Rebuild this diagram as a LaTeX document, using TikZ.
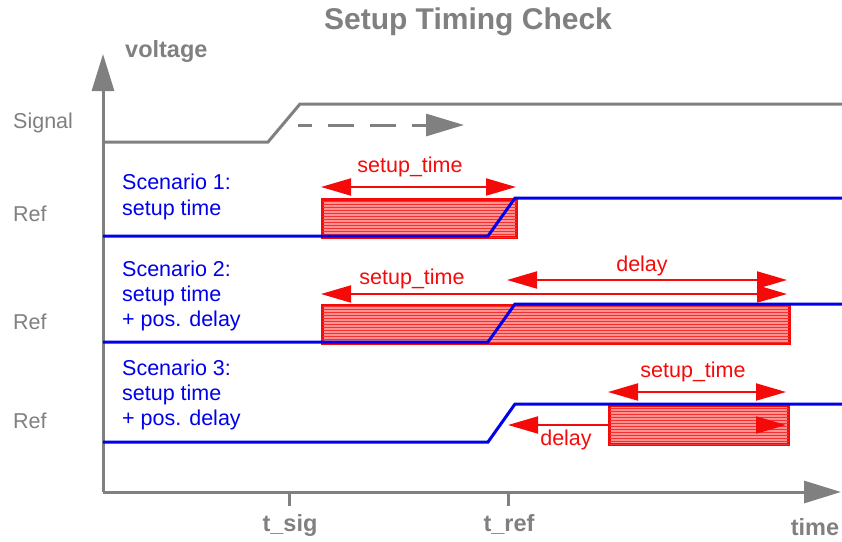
\documentclass[tikz,border=0pt]{standalone}
\usepackage{fontspec}
\setmainfont{Liberation Sans}
\usetikzlibrary{arrows.meta,patterns}
\definecolor{axgray}{RGB}{128,128,128}
\definecolor{sigblue}{RGB}{0,0,235}
\definecolor{myred}{RGB}{245,10,10}
\definecolor{boxpink}{RGB}{255,145,145}
\tikzset{
  lbl/.style={font=\fontsize{21.5}{25}\selectfont, inner sep=0pt},
  axlbl/.style={font=\bfseries\fontsize{23.5}{26}\selectfont, text=axgray, inner sep=0pt},
  axisline/.style={draw=axgray, line width=3pt, -{Triangle[length=37pt,width=22pt]}},
  sigline/.style={draw=axgray, line width=3pt},
  refline/.style={draw=sigblue, line width=3pt},
  scen/.style={lbl, text=sigblue, anchor=base west},
  redlbl/.style={lbl, text=myred, anchor=base},
  redarr/.style={draw=myred, line width=2pt, {Triangle[length=30pt,width=17pt]}-{Triangle[length=30pt,width=17pt]}},
  redtip/.style={draw=myred, line width=2pt, -{Triangle[length=30pt,width=17pt]}},
  hatchbox/.style={draw=myred, line width=3pt, fill=boxpink, postaction={pattern=horizontal lines, pattern color=myred!85!white}},
}
\begin{document}
\begin{tikzpicture}[x=1pt,y=-1pt]
\useasboundingbox (0,0) rectangle (842,541);
% title and axis labels
\node[font=\bfseries\fontsize{30}{32}\selectfont, text=axgray, anchor=base, inner sep=0pt] (title) at (468,29) {Setup Timing Check};
\node[axlbl, anchor=base west] (volt) at (125,57) {voltage};
\node[axlbl, anchor=base] (tsig) at (290,531) {t\_sig};
\node[axlbl, anchor=base] (tref) at (509,531) {t\_ref};
\node[axlbl, anchor=base] (time) at (815,535) {time};
% axes
\coordinate (o) at (103,492);
\coordinate (yend) at (103,54);
\coordinate (xend) at (841,492);
\draw[axisline] (o) -- (yend);
\draw[axisline] (o) -- (xend);
\coordinate (ts1) at (289,492); \coordinate (ts2) at (289,506);
\coordinate (tr1) at (508,492); \coordinate (tr2) at (508,506);
\draw[sigline] (ts1) -- (ts2);
\draw[sigline] (tr1) -- (tr2);
% left labels
\node[lbl, text=axgray, anchor=base west] (siglbl) at (13,128) {Signal};
\node[lbl, text=axgray, anchor=base west] (ref1) at (13,221) {Ref};
\node[lbl, text=axgray, anchor=base west] (ref2) at (13,329) {Ref};
\node[lbl, text=axgray, anchor=base west] (ref3) at (13,428) {Ref};
% signal
\coordinate (s0) at (103,142); \coordinate (s1) at (268,142);
\coordinate (s2) at (300,104); \coordinate (s3) at (842,104);
\draw[sigline] (s0) -- (s1) -- (s2) -- (s3);
\coordinate (d0) at (298,125); \coordinate (d1) at (464,125);
\draw[draw=axgray, line width=3pt, dash pattern=on 26pt off 16pt, dash phase=12pt, -{Triangle[length=38pt,width=22pt]}] (d0) -- (d1);
% scenario labels
\node[scen] (sc1a) at (122,189) {Scenario 1:};
\node[scen] (sc1b) at (122,215) {setup time};
\node[scen] (sc2a) at (122,276) {Scenario 2:};
\node[scen] (sc2b) at (122,301) {setup time};
\node[scen] (sc2c) at (122,326) {+ pos. delay};
\node[scen] (sc3a) at (122,375) {Scenario 3:};
\node[scen] (sc3b) at (122,400) {setup time};
\node[scen] (sc3c) at (122,425) {+ pos. delay};
% scenario 1
\node[hatchbox, inner sep=0pt, minimum width=194pt, minimum height=38pt, anchor=north west] (box1) at (321,198) {};
\coordinate (a0) at (103,236); \coordinate (a1) at (488,236);
\coordinate (a2) at (515,198); \coordinate (a3) at (842,198);
\draw[refline] (a0) -- (a1) -- (a2) -- (a3);
\coordinate (u1l) at (321,187); \coordinate (u1r) at (516,187);
\draw[redarr] (u1l) -- (u1r);
\node[redlbl] (st1) at (410,172) {setup\_time};
% scenario 2
\node[hatchbox, inner sep=0pt, minimum width=467pt, minimum height=38pt, anchor=north west] (box2) at (321,304) {};
\coordinate (b0) at (103,342); \coordinate (b1) at (488,342);
\coordinate (b2) at (515,304); \coordinate (b3) at (842,304);
\draw[refline] (b0) -- (b1) -- (b2) -- (b3);
\coordinate (u2l) at (321,294); \coordinate (u2r) at (787,294);
\draw[redarr] (u2l) -- (u2r);
\coordinate (v2l) at (507,280); \coordinate (v2r) at (787,280);
\draw[redarr] (v2l) -- (v2r);
\node[redlbl] (st2) at (412,284) {setup\_time};
\node[redlbl] (dl2) at (642,271) {delay};
% scenario 3
\node[hatchbox, inner sep=0pt, minimum width=179pt, minimum height=39pt, anchor=north west] (box3) at (608,404) {};
\coordinate (c0) at (103,442); \coordinate (c1) at (488,442);
\coordinate (c2) at (515,404); \coordinate (c3) at (842,404);
\draw[refline] (c0) -- (c1) -- (c2) -- (c3);
\coordinate (u3l) at (608,392); \coordinate (u3r) at (786,392);
\draw[redarr] (u3l) -- (u3r);
\coordinate (w3a) at (608,425); \coordinate (w3b) at (508,425);
\draw[redtip] (w3a) -- (w3b);
\coordinate (w3c) at (757,425); \coordinate (w3d) at (786,425);
\draw[redtip] (w3c) -- (w3d);
\node[redlbl] (st3) at (693,377) {setup\_time};
\node[redlbl] (dl3) at (566,445) {delay};
\end{tikzpicture}
\end{document}
